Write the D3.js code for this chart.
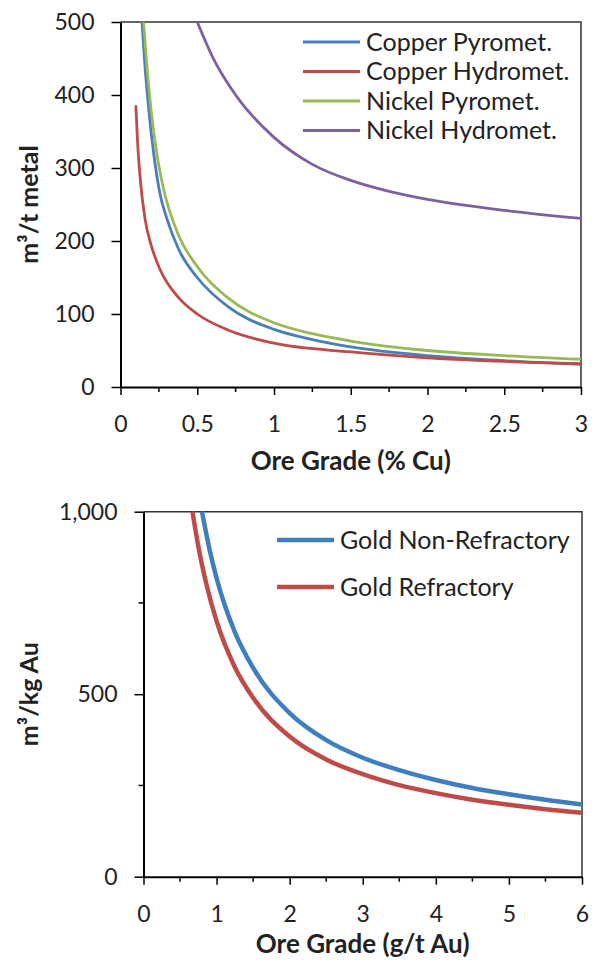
<!DOCTYPE html>
<meta charset="utf-8">
<style>
  body { margin: 0; background: #fff; }
  text { font-family: Lato, "Open Sans", sans-serif; fill: #222; }
</style>
<body>
  <div id="box1"></div>
</body>
<script src="https://d3js.org/d3.v7.min.js"></script>
<script>

// ---- top chart: water per tonne of metal vs ore grade (% Cu)
var copperPyroGrade = [0.14, 0.16, 0.19, 0.24, 0.26, 0.3, 0.38, 0.5, 0.7, 1, 1.25, 1.5, 2, 2.5, 3];
var copperPyroWater = [500, 438, 368, 285, 262, 232, 188, 150, 110, 79, 65, 55, 43, 36, 31];

var copperHydroGrade = [0.1, 0.11, 0.13, 0.16, 0.2, 0.26, 0.38, 0.5, 0.7, 1, 1.5, 2, 2.5, 3];
var copperHydroWater = [386, 340, 282, 230, 194, 160, 122, 100, 78, 60, 48, 40, 35, 32];

var nickelPyroGrade = [0.15, 0.17, 0.2, 0.24, 0.28, 0.37, 0.5, 0.7, 1, 1.25, 1.5, 2, 2.5, 3];
var nickelPyroWater = [500, 445, 378, 315, 272, 212, 165, 122, 88, 73, 63, 50, 43, 38];

var nickelHydroGrade = [0.5, 0.6, 0.75, 1, 1.25, 1.5, 1.75, 2, 2.5, 3];
var nickelHydroWater = [500, 452, 400, 342, 305, 283, 268, 257, 242, 231];

var topSeriesNames = ["Copper Pyromet.", "Copper Hydromet.", "Nickel Pyromet.", "Nickel Hydromet."];
var topColors = ["#4a7ebb", "#be4b48", "#98b954", "#7d60a0"];
var topXTicks = [0, 0.5, 1, 1.5, 2, 2.5, 3];
var topYTicks = [0, 100, 200, 300, 400, 500];

// ---- bottom chart: water per kg gold vs ore grade (g/t Au)
var goldNonRefGrade = [0.8, 0.9, 1, 1.25, 1.5, 2, 2.5, 3, 3.5, 4, 4.5, 5, 5.5, 6];
var goldNonRefWater = [1000, 900, 818, 670, 572, 448, 374, 326, 292, 265, 243, 226, 211, 198];

var goldRefGrade = [0.67, 0.75, 0.86, 1, 1.25, 1.5, 2, 2.5, 3, 3.5, 4, 4.5, 5, 5.5, 6];
var goldRefWater = [1000, 905, 802, 700, 574, 490, 384, 321, 281, 251, 229, 211, 197, 185, 175];

var goldSeriesNames = ["Gold Non-Refractory", "Gold Refractory"];
var goldColors = ["#3f7fc0", "#be4b48"];
var goldXTicks = [0, 1, 2, 3, 4, 5, 6];
var goldYTicks = [0, 500, 1000];

function zipSeries(grades, water) {
  return grades.map(function(g, i) { return {x: g, y: water[i]}; });
}

var svg = d3.select('#box1').append("svg")
    .attr("width", 595)
    .attr("height", 962)

function drawChart(opt) {
  var x = d3.scaleLinear().domain(opt.xDomain).range([opt.left, opt.right]);
  var y = d3.scaleLinear().domain(opt.yDomain).range([opt.bottom, opt.top]);
  var g = svg.append("g");

  // minor ticks
  g.selectAll(".xminor").data(opt.xMinor).join("line")
      .attr("x1", d => x(d)).attr("x2", d => x(d))
      .attr("y1", opt.bottom).attr("y2", opt.bottom + 5)
      .attr("stroke", "#000").attr("stroke-width", 1.5);
  g.selectAll(".yminor").data(opt.yMinor).join("line")
      .attr("y1", d => y(d)).attr("y2", d => y(d))
      .attr("x1", opt.left).attr("x2", opt.left - 5)
      .attr("stroke", "#000").attr("stroke-width", 1.5);

  // plot frame (top and right)
  g.append("path")
      .attr("d", "M" + opt.left + "," + opt.top + "H" + opt.right + "V" + opt.bottom)
      .attr("fill", "none").attr("stroke", "#333").attr("stroke-width", 1.5);

  var xAxis = g.append("g")
      .attr("transform", "translate(0," + opt.bottom + ")")
      .call(d3.axisBottom(x).tickValues(opt.xTicks).tickSize(8).tickSizeOuter(0).tickPadding(21).tickFormat(d3.format("")));
  var yAxis = g.append("g")
      .attr("transform", "translate(" + opt.left + ",0)")
      .call(d3.axisLeft(y).tickValues(opt.yTicks).tickSize(9).tickSizeOuter(0).tickPadding(17).tickFormat(opt.yFormat));

  [xAxis, yAxis].forEach(function(a) {
    a.select(".domain").attr("stroke", "#000").attr("stroke-width", 2);
    a.selectAll(".tick line").attr("stroke", "#000").attr("stroke-width", 1.5);
    a.selectAll(".tick text").style("font-size", "23px").attr("fill", "#222");
  });

  var line = d3.line()
      .x(d => x(d.x))
      .y(d => y(d.y))
      .curve(d3.curveMonotoneX);

  g.selectAll(".series").data(opt.series).join("path")
      .attr("d", d => line(d))
      .attr("fill", "none")
      .attr("stroke", (d, i) => opt.colors[i])
      .attr("stroke-width", opt.lineWidth);

  // legend
  var leg = g.selectAll(".leg").data(opt.names).join("g")
      .attr("transform", (d, i) => "translate(" + opt.legX + "," + (opt.legY + i * opt.legStep) + ")");
  leg.append("line")
      .attr("x1", 0).attr("x2", opt.legLine)
      .attr("stroke", (d, i) => opt.colors[i])
      .attr("stroke-width", opt.lineWidth);
  leg.append("text")
      .attr("x", opt.legLine + 6)
      .attr("dy", "0.35em")
      .style("font-size", opt.legFont + "px")
      .text(d => d);

  // axis titles
  g.append("text")
      .attr("x", (opt.left + opt.right) / 2)
      .attr("y", opt.xTitleY)
      .attr("text-anchor", "middle")
      .style("font-size", "26px").style("font-weight", "bold")
      .text(opt.xTitle);
  g.append("text")
      .attr("transform", "translate(" + opt.yTitleX + "," + (opt.top + opt.bottom) / 2 + ") rotate(-90)")
      .attr("text-anchor", "middle")
      .style("font-size", "25px").style("font-weight", "bold")
      .text(opt.yTitle);
}

drawChart({
  left: 120.5, right: 581, top: 22, bottom: 387,
  xDomain: [0, 3], yDomain: [0, 500],
  xTicks: topXTicks, yTicks: topYTicks,
  xMinor: [0.25, 0.75, 1.25, 1.75, 2.25, 2.75], yMinor: [],
  yFormat: d3.format(""),
  series: [zipSeries(copperPyroGrade, copperPyroWater), zipSeries(copperHydroGrade, copperHydroWater),
           zipSeries(nickelPyroGrade, nickelPyroWater), zipSeries(nickelHydroGrade, nickelHydroWater)],
  colors: topColors, names: topSeriesNames, lineWidth: 2.8,
  legX: 303, legY: 42, legStep: 29.5, legLine: 57, legFont: 25,
  xTitle: "Ore Grade (% Cu)", xTitleY: 470,
  yTitle: "m³/t metal", yTitleX: 38
});

drawChart({
  left: 143.5, right: 582, top: 511.7, bottom: 876.7,
  xDomain: [0, 6], yDomain: [0, 1000],
  xTicks: goldXTicks, yTicks: goldYTicks,
  xMinor: [0.5, 1.5, 2.5, 3.5, 4.5, 5.5], yMinor: [250, 750],
  yFormat: d3.format(","),
  series: [zipSeries(goldNonRefGrade, goldNonRefWater), zipSeries(goldRefGrade, goldRefWater)],
  colors: goldColors, names: goldSeriesNames, lineWidth: 4.5,
  legX: 277, legY: 540, legStep: 47, legLine: 57, legFont: 25,
  xTitle: "Ore Grade (g/t Au)", xTitleY: 953,
  yTitle: "m³/kg Au", yTitleX: 38
});

</script>
